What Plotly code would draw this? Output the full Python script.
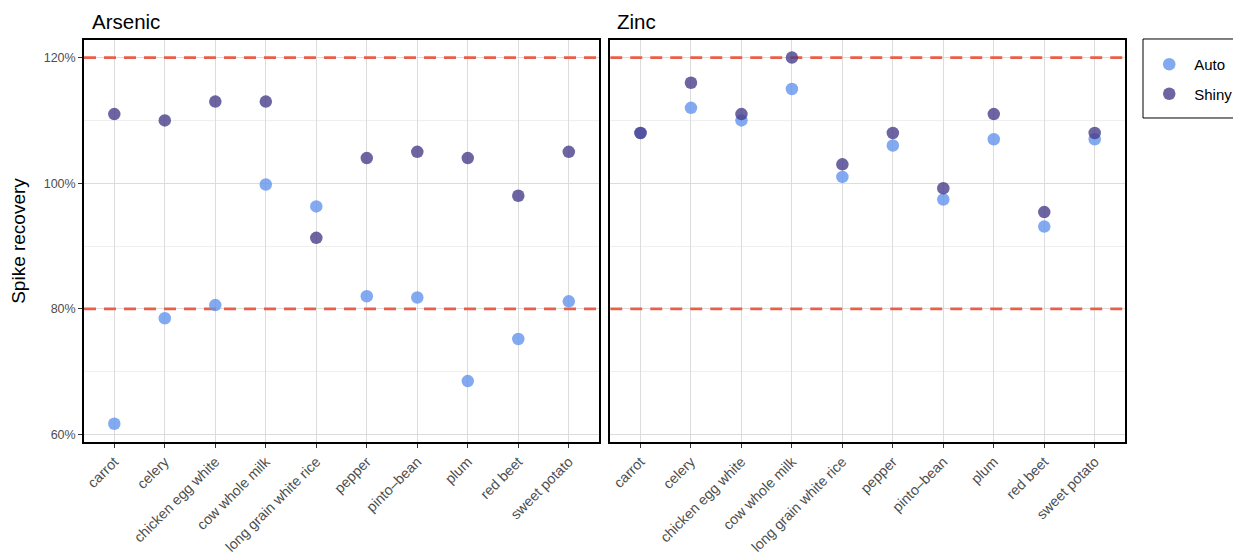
import plotly.graph_objects as go

categories = ["carrot", "celery", "chicken egg white", "cow whole milk",
              "long grain white rice", "pepper", "pinto\u2013bean", "plum",
              "red beet", "sweet potato"]

arsenic_auto = [61.7, 78.5, 80.6, 99.8, 96.3, 82.0, 81.8, 68.5, 75.2, 81.2]
arsenic_shiny = [111.0, 110.0, 113.0, 113.0, 91.3, 104.0, 105.0, 104.0, 98.0, 105.0]
zinc_auto = [108.0, 112.0, 110.0, 115.0, 101.0, 106.0, 97.4, 107.0, 93.1, 107.0]
zinc_shiny = [108.0, 116.0, 111.0, 120.0, 103.0, 108.0, 99.2, 111.0, 95.4, 108.0]

thresholds = [80, 120]
y_ticks = [60, 80, 100, 120]
y_tick_labels = ["60%", "80%", "100%", "120%"]
panel_titles = ["Arsenic", "Zinc"]

auto_color = "rgba(100,149,237,0.8)"
shiny_color = "rgba(72,61,139,0.8)"
font_family = "Liberation Sans, Arial, Helvetica, sans-serif"

x_idx = list(range(len(categories)))
x_range = [-0.6, len(categories) - 0.4]

fig = go.Figure()

panels = [("x", "y", arsenic_auto, arsenic_shiny, True),
          ("x2", "y2", zinc_auto, zinc_shiny, False)]
for xa, ya, auto_vals, shiny_vals, show in panels:
    for t in thresholds:
        fig.add_trace(go.Scatter(x=x_range, y=[t, t],
                                 mode="lines", showlegend=False, hoverinfo="skip",
                                 xaxis=xa, yaxis=ya,
                                 line=dict(color="#E8604A", width=2.6, dash="12px,8px")))
    fig.add_trace(go.Scatter(x=x_idx, y=auto_vals, mode="markers", name="Auto",
                             text=categories, legendgroup="Auto", showlegend=show,
                             xaxis=xa, yaxis=ya,
                             marker=dict(size=12.5, color=auto_color, line=dict(width=0))))
    fig.add_trace(go.Scatter(x=x_idx, y=shiny_vals, mode="markers", name="Shiny",
                             text=categories, legendgroup="Shiny", showlegend=show,
                             xaxis=xa, yaxis=ya,
                             marker=dict(size=12.5, color=shiny_color, line=dict(width=0))))

common_x = dict(range=x_range, tickmode="array", tickvals=x_idx, ticktext=categories,
                tickangle=-45, showgrid=True, gridcolor="#dcdcdc",
                gridwidth=1, ticks="outside", ticklen=4, tickcolor="#333333",
                tickwidth=1, showline=True, linecolor="black", linewidth=1.6,
                mirror=True, zeroline=False, automargin=False,
                tickfont=dict(size=14.3, color="#4d4d4d", family=font_family))
common_y = dict(range=[58.8, 122.8], tickmode="array", tickvals=y_ticks,
                ticktext=y_tick_labels,
                showgrid=True, gridcolor="#dcdcdc", gridwidth=1,
                showline=True, linecolor="black", linewidth=1.6, mirror=True,
                zeroline=False, automargin=False,
                tickfont=dict(size=12.5, color="#4d4d4d", family=font_family))

# page offset compensation (body margin ~8px): plot area at page x 84..1126, y 40..442
fig.update_layout(
    width=1241, height=556,
    margin=dict(l=76, r=123, t=32, b=122),
    plot_bgcolor="white", paper_bgcolor="white",
    font=dict(family=font_family, color="black"),
    xaxis=dict(domain=[0, 0.4948], anchor="y", **common_x),
    xaxis2=dict(domain=[0.5055, 1], anchor="y2", **common_x),
    yaxis=dict(anchor="x", ticks="outside", ticklen=4, tickcolor="#333333",
               title=dict(text="Spike recovery", font=dict(size=19, color="black"),
                          standoff=13),
               **common_y),
    yaxis2=dict(anchor="x2", matches="y", showticklabels=False, ticks="", **common_y),
    showlegend=True,
    legend=dict(x=1.0175, y=0.98, xanchor="left", yanchor="top",
                borderwidth=0, bgcolor="rgba(0,0,0,0)",
                font=dict(size=15, color="black", family=font_family),
                tracegroupgap=7, itemwidth=40),
    shapes=[dict(type="rect", xref="paper", yref="paper", x0=1.0173, x1=1.118,
                 y0=0.806, y1=1.0025, line=dict(color="black", width=1),
                 fillcolor="rgba(0,0,0,0)", layer="below")],
    annotations=[
        dict(text=panel_titles[0], xref="paper", yref="paper", x=0.0058, y=1.045,
             xanchor="left", yanchor="middle", showarrow=False,
             font=dict(size=20.5, color="black")),
        dict(text=panel_titles[1], xref="paper", yref="paper", x=0.5105, y=1.045,
             xanchor="left", yanchor="middle", showarrow=False,
             font=dict(size=20.5, color="black")),
    ],
)

# minor horizontal gridlines (70, 90, 110)
fig.update_yaxes(minor=dict(dtick=10, tick0=60, showgrid=True,
                            gridcolor="#efefef", gridwidth=1))

fig.write_html("out.html")
